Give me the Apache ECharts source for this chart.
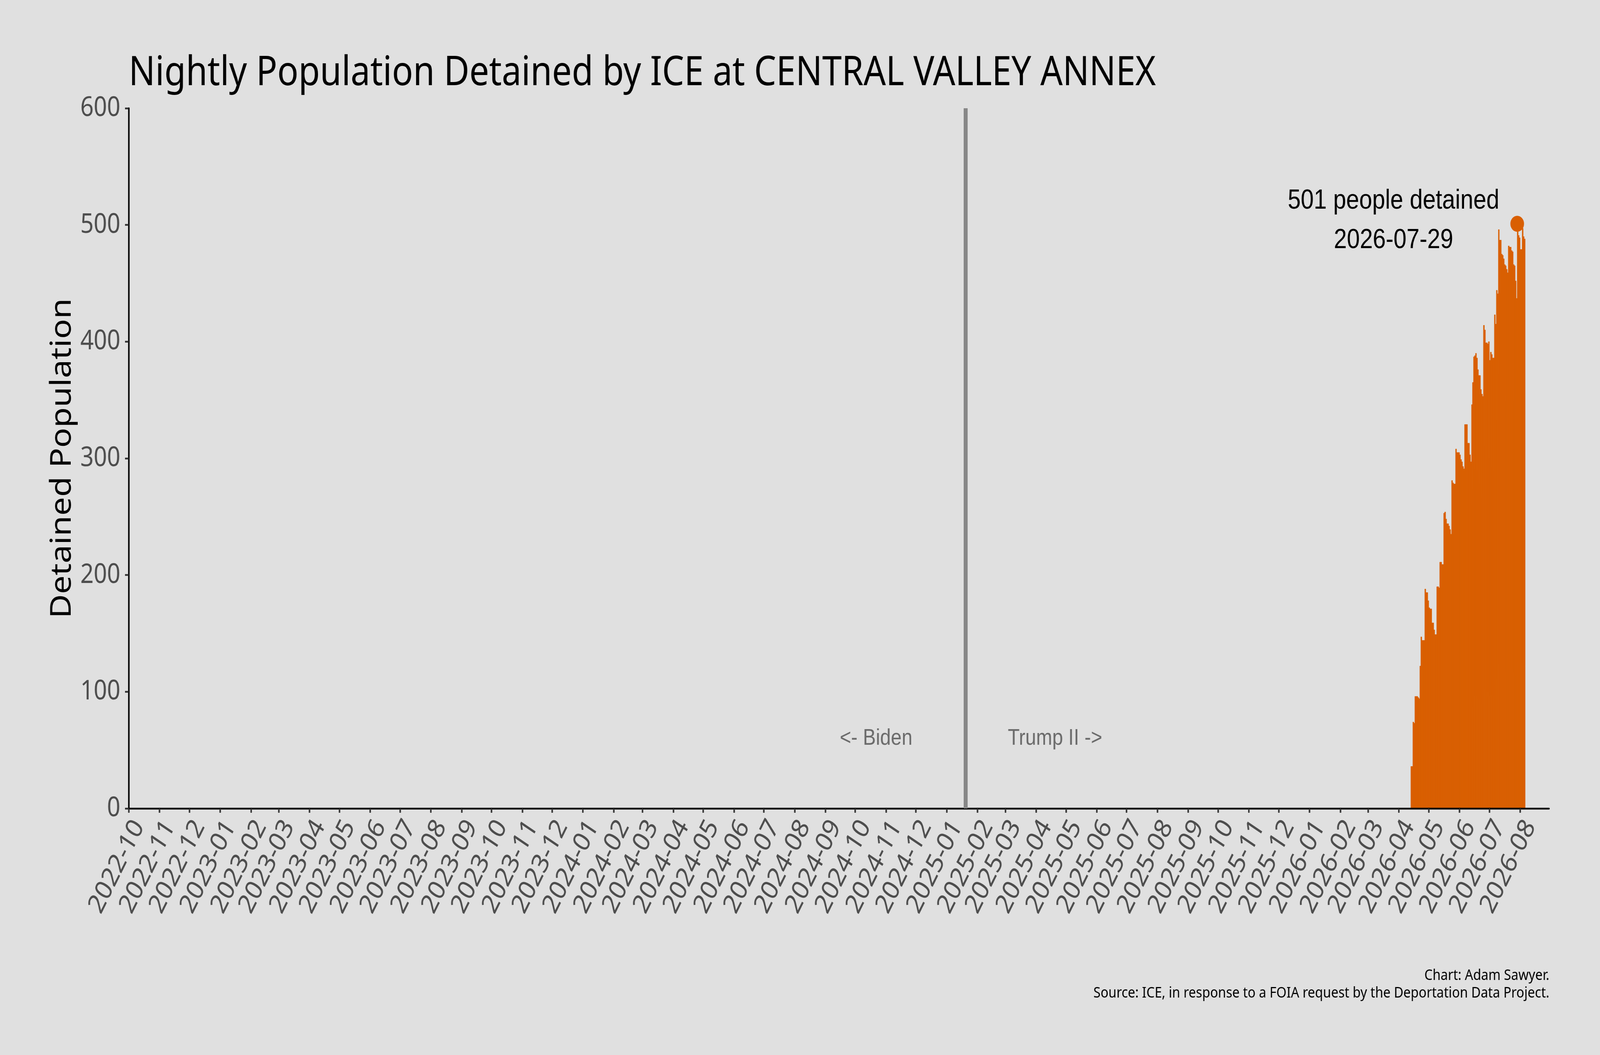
<!DOCTYPE html>
<html>
<head>
<meta charset="utf-8">
<title>Nightly Population Detained by ICE at CENTRAL VALLEY ANNEX</title>
<script src="https://cdn.jsdelivr.net/npm/echarts@6.0.0/dist/echarts.min.js"></script>
<style>
  html, body { margin: 0; padding: 0; background: #e0e0e0; overflow: hidden; }
  #chart-box { width: 4800px; height: 2700px; transform-origin: 0 0; }
</style>
</head>
<body>
<div id="chart-box"></div>
<script>
// month tick labels on the x axis
const monthTicks = [
  '2022-10', '2022-11', '2022-12',
  '2023-01', '2023-02', '2023-03', '2023-04', '2023-05', '2023-06',
  '2023-07', '2023-08', '2023-09', '2023-10', '2023-11', '2023-12',
  '2024-01', '2024-02', '2024-03', '2024-04', '2024-05', '2024-06',
  '2024-07', '2024-08', '2024-09', '2024-10', '2024-11', '2024-12',
  '2025-01', '2025-02', '2025-03', '2025-04', '2025-05', '2025-06',
  '2025-07', '2025-08', '2025-09', '2025-10', '2025-11', '2025-12',
  '2026-01', '2026-02', '2026-03', '2026-04', '2026-05', '2026-06',
  '2026-07', '2026-08'
]
const axisStart = '2022-10-01'
const axisEnd = '2026-08-30'

// nightly population, one value per day starting at firstDay
const firstDay = '2026-04-13'
const detained = [
  36, 36, 74, 73, 96, 96, 96, 95, 94, 122,
  147, 144, 144, 144, 188, 185, 185, 178, 172, 171,
  171, 159, 159, 153, 149, 149, 190, 190, 189, 211,
  211, 209, 209, 253, 254, 248, 244, 244, 242, 239,
  235, 281, 279, 278, 278, 308, 305, 305, 305, 303,
  299, 297, 293, 291, 329, 329, 329, 313, 313, 303,
  297, 346, 365, 387, 388, 390, 386, 376, 371, 371,
  359, 355, 353, 414, 410, 399, 399, 398, 400, 384,
  391, 389, 386, 386, 423, 415, 444, 441, 496, 487,
  487, 475, 474, 471, 466, 465, 462, 459, 482, 481,
  481, 478, 477, 466, 465, 452, 437, 501, 491, 489,
  479, 479, 497, 490, 488
]

const peakDate = '2026-07-29'
const peakValue = 501
const inauguration = '2025-01-20'
const eraDates = ['2024-10-22', '2025-04-20']
const eraNames = ['<- Biden', 'Trump II ->']
const eraY = 60

const ORANGE = '#d95f02'
const DAY = 24 * 3600 * 1000
const SANS = '"Noto Sans", "Open Sans", sans-serif'
const ARIAL = '"Liberation Sans", Arial, sans-serif'

function toTime(s) {
  const p = s.split('-').map(Number)
  return new Date(p[0], p[1] - 1, p[2] || 1).getTime()
}
function monthLabel(t) {
  const d = new Date(t)
  const m = d.getMonth() + 1
  return d.getFullYear() + '-' + (m < 10 ? '0' + m : m)
}

const f = firstDay.split('-').map(Number)
const dailyData = detained.map((v, i) => [new Date(f[0], f[1] - 1, f[2] + i).getTime(), v])
const monthValues = monthTicks.map(toTime)

const options = {
  backgroundColor: '#e0e0e0',
  animation: false,
  grid: { left: 386, right: 153, top: 277, bottom: 631 },
  xAxis: {
    type: 'value',
    min: toTime(axisStart),
    max: toTime(axisEnd),
    z: 3,
    splitLine: { show: false },
    axisLine: { lineStyle: { color: '#000', width: 4.5 } },
    axisTick: { customValues: monthValues, length: 11, lineStyle: { color: '#333', width: 4.5 } },
    axisLabel: {
      customValues: monthValues,
      formatter: monthLabel,
      rotate: 60,
      align: 'right',
      verticalAlign: 'top',
      margin: 18,
      fontSize: 70,
      color: '#4d4d4d',
      fontFamily: SANS
    }
  },
  yAxis: {
    type: 'value',
    min: 0,
    max: 600,
    interval: 100,
    z: 3,
    splitLine: { show: false },
    axisLine: { show: true, lineStyle: { color: '#000', width: 4.5 } },
    axisTick: { show: true, length: 11, lineStyle: { color: '#333', width: 4.5 } },
    axisLabel: { margin: 25, fontSize: 70, color: '#4d4d4d', fontFamily: SANS },
    name: 'Detained Population',
    nameLocation: 'middle',
    nameGap: 153,
    nameTextStyle: { fontSize: 85, color: '#000', fontFamily: SANS }
  },
  graphic: [
    {
      type: 'text', x: 386, y: 188,
      style: {
        text: 'Nightly Population Detained by ICE at CENTRAL VALLEY ANNEX',
        fontSize: 105, fontFamily: SANS, fill: '#000', align: 'left', verticalAlign: 'middle'
      }
    },
    {
      type: 'text', x: 4648, y: 2497,
      style: {
        text: 'Chart: Adam Sawyer.',
        fontSize: 39, fontFamily: SANS, fill: '#000', align: 'right', verticalAlign: 'middle'
      }
    },
    {
      type: 'text', x: 4648, y: 2542,
      style: {
        text: 'Source: ICE, in response to a FOIA request by the Deportation Data Project.',
        fontSize: 39, fontFamily: SANS, fill: '#000', align: 'right', verticalAlign: 'middle'
      }
    }
  ],
  series: [
    {
      name: 'Detained',
      type: 'custom',
      z: 2,
      silent: true,
      encode: { x: 0, y: 1 },
      data: dailyData,
      renderItem: (params, api) => {
        const top = api.coord([api.value(0), api.value(1)])
        const bottom = api.coord([api.value(0) + DAY, 0])
        return {
          type: 'rect',
          shape: { x: top[0], y: top[1], width: bottom[0] - top[0], height: bottom[1] - top[1] },
          style: { fill: ORANGE, stroke: ORANGE, lineWidth: 1 }
        }
      }
    },
    {
      name: 'Eras',
      type: 'scatter',
      symbolSize: 0,
      silent: true,
      data: eraDates.map((d, i) => ({ name: eraNames[i], value: [toTime(d), eraY] })),
      label: {
        show: true,
        position: 'inside',
        formatter: p => p.name,
        fontSize: 58,
        color: '#4d4d4d',
        fontFamily: ARIAL
      },
      markLine: {
        silent: true,
        symbol: 'none',
        label: { show: false },
        lineStyle: { color: '#878787', width: 12, type: 'solid' },
        data: [{ xAxis: toTime(inauguration) }]
      }
    },
    {
      name: 'Peak',
      type: 'scatter',
      z: 4,
      silent: true,
      symbolSize: 41,
      itemStyle: { color: ORANGE, opacity: 1 },
      data: [[toTime(peakDate), peakValue]],
      label: {
        show: true,
        position: 'inside',
        offset: [-371, -7],
        align: 'center',
        lineHeight: 101,
        formatter: p => p.value[1] + ' people detained\n' + peakDate,
        fontSize: 70,
        color: '#000',
        fontFamily: ARIAL
      }
    }
  ]
}

// the page may get a window narrower than 4800px: draw at full size, then fit it
const box = document.getElementById('chart-box')
box.style.transform = 'scale(' + (window.innerWidth / 4800) + ',' + (window.innerHeight / 2700) + ')'

const myChart = echarts.init(box, null, { width: 4800, height: 2700 })
myChart.setOption(options)
</script>
</body>
</html>
